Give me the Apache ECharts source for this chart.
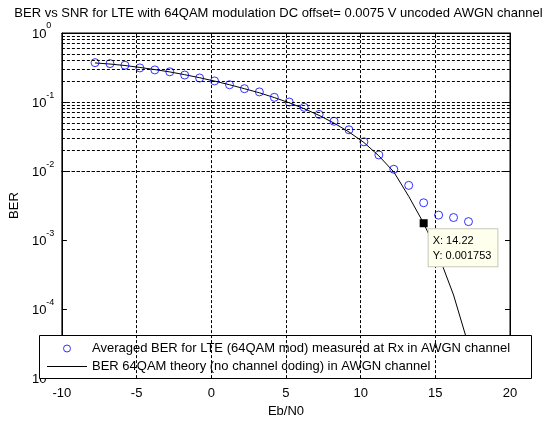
<!DOCTYPE html>
<html>
<head>
<meta charset="utf-8">
<script src="https://cdn.jsdelivr.net/npm/echarts@6/dist/echarts.min.js"></script>
<style>
html,body{margin:0;padding:0;background:#fff;}
#chart{width:557px;height:423px;}
</style>
</head>
<body>
<div id="chart"></div>
<script>
// Eb/N0 values (dB)
const ebNo = [-7.78,-6.78,-5.78,-4.78,-3.78,-2.78,-1.78,-0.78,0.22,1.22,2.22,3.22,4.22,5.22,6.22,7.22,8.22,9.22,10.22,11.22,12.22,13.22,14.22,15.22,16.22,17.22];
// Measured BER (blue circles)
const berMeasured = [0.372,0.360,0.341,0.312,0.292,0.274,0.246,0.223,0.202,0.178,0.156,0.140,0.117,0.100,0.0839,0.0661,0.0526,0.0396,0.0265,0.0171,0.0106,0.0062,0.00347,0.00230,0.00212,0.00185];
// Theoretical BER (black line)
const berTheory = [0.368,0.355,0.338,0.317,0.295,0.273,0.249,0.225,0.201,0.178,0.156,0.136,0.116,0.0975,0.0800,0.0640,0.0495,0.0368,0.0259,0.0166,0.0097,0.0043,0.00175,0.00060,0.00016,0.00003];
// Data tip
const datatip = [14.22, 0.001753];
// Axis ticks / grid
const xTicks = [-10,-5,0,5,10,15,20];
const xGrid = [-5,0,5,10,15];
const yDecades = [1e-5,1e-4,1e-3,1e-2,1e-1,1];
const legendNames = ['Averaged BER for LTE (64QAM mod) measured at Rx in AWGN channel','BER 64QAM theory (no channel coding) in AWGN channel'];
const titleText = 'BER vs SNR for LTE with 64QAM modulation DC offset= 0.0075 V uncoded AWGN channel';

const yGrid = [];
for (let d = 0; d < yDecades.length - 1; d++) {
  for (let m = 1; m <= 9; m++) if (!(d === 0 && m === 1)) yGrid.push(+(m * yDecades[d]).toPrecision(3));
}

const FONT = 'Liberation Sans, Arial, sans-serif';
const dash = [3, 2];
const chart = echarts.init(document.getElementById('chart'), null, {renderer: 'canvas'});

const option = {
  backgroundColor: '#fff',
  animation: false,
  textStyle: {fontFamily: FONT, color: '#000'},
  title: {
    text: titleText, left: 'center', top: 7, padding: 0,
    textStyle: {fontFamily: FONT, fontSize: 13, fontWeight: 'normal', color: '#000'}
  },
  grid: {left: 60, right: 47, top: 33, bottom: 37, show: true, borderColor: '#000', borderWidth: 1, backgroundColor: '#fff'},
  xAxis: [{
    type: 'value', min: -10, max: 20, interval: 5,
    name: 'Eb/N0', nameLocation: 'middle', nameGap: 24,
    nameTextStyle: {fontFamily: FONT, fontSize: 13, color: '#000'},
    axisLine: {show: true, onZero: false, lineStyle: {color: '#000'}},
    axisTick: {show: true, inside: true, length: 5, lineStyle: {color: '#000'}},
    axisLabel: {fontFamily: FONT, fontSize: 13, color: '#000', margin: 9},
    splitLine: {show: false}
  }, {
    type: 'value', min: -10, max: 20, interval: 5, position: 'top',
    axisLine: {show: true, onZero: false, lineStyle: {color: '#000'}},
    axisTick: {show: true, inside: true, length: 5, lineStyle: {color: '#000'}},
    axisLabel: {show: false}, splitLine: {show: false}
  }],
  yAxis: [{
    type: 'log', logBase: 10, min: 1e-5, max: 1, position: 'left',
    name: 'BER', nameLocation: 'middle', nameGap: 36,
    nameTextStyle: {fontFamily: FONT, fontSize: 13, color: '#000'},
    axisLine: {show: true, onZero: false, lineStyle: {color: '#000'}},
    axisTick: {show: true, inside: true, length: 5, lineStyle: {color: '#000'}},
    axisLabel: {
      margin: 30, align: 'left', color: '#000',
      padding: [0, 0, 4, 0],
      formatter: function (v) { return '{b|10}{s|' + Math.round(Math.log10(v)) + '}'; },
      rich: {
        b: {fontFamily: FONT, fontSize: 13, color: '#000', verticalAlign: 'bottom', lineHeight: 13},
        s: {fontFamily: FONT, fontSize: 9, color: '#000', verticalAlign: 'top', lineHeight: 19}
      }
    },
    splitLine: {show: false}
  }, {
    type: 'log', logBase: 10, min: 1e-5, max: 1, position: 'right',
    axisLine: {show: true, onZero: false, lineStyle: {color: '#000'}},
    axisTick: {show: true, inside: true, length: 5, lineStyle: {color: '#000'}},
    axisLabel: {show: false}, splitLine: {show: false}
  }],
  legend: {
    orient: 'vertical', left: 47, top: 342, padding: 0, itemGap: 5,
    itemWidth: 40, itemHeight: 7, z: 5,
    textStyle: {fontFamily: FONT, fontSize: 13, color: '#000'},
    data: [
      {name: legendNames[0], icon: 'circle', itemStyle: {color: 'rgba(255,255,255,0)', borderColor: '#0000ff', borderWidth: 1}},
      {name: legendNames[1], icon: 'path://M0,0H40V1H0Z', itemStyle: {color: '#000', borderWidth: 0}}
    ]
  },
  graphic: [{
    type: 'rect', z: 3, silent: true,
    shape: {x: 39.5, y: 335.5, width: 492, height: 43},
    style: {fill: '#fff', stroke: '#000', lineWidth: 1}
  }],
  series: [{
    name: 'grid-lines', type: 'line', data: [], silent: true,
    markLine: {
      silent: true, symbol: ['none', 'none'], label: {show: false},
      lineStyle: {color: '#000', type: dash, width: 1},
      data: yGrid.map(v => ({yAxis: v})).concat(xGrid.map(v => ({xAxis: v})))
    }
  }, {
    name: legendNames[0], type: 'scatter',
    symbol: 'circle', symbolSize: 8,
    itemStyle: {color: 'rgba(255,255,255,0)', borderColor: '#0000ff', borderWidth: 1},
    data: ebNo.map((x, i) => [x, berMeasured[i]]), z: 2
  }, {
    name: legendNames[1], type: 'line', symbol: 'none',
    lineStyle: {color: '#000', width: 1}, itemStyle: {color: '#000'},
    data: ebNo.map((x, i) => [x, berTheory[i]]), z: 2,
    markPoint: {
      symbol: 'rect', symbolSize: 8, itemStyle: {color: '#000'},
      label: {
        show: true, position: [9, 10], align: 'left',
        formatter: 'X: ' + datatip[0] + '\nY: ' + datatip[1],
        fontFamily: FONT, fontSize: 11, color: '#000', lineHeight: 15,
        backgroundColor: '#ffffee', borderColor: '#c8c8b8', borderWidth: 1,
        padding: [4, 6, 3, 4]
      },
      data: [{coord: [datatip[0], datatip[1]]}]
    }
  }]
};
chart.setOption(option);
</script>
</body>
</html>
